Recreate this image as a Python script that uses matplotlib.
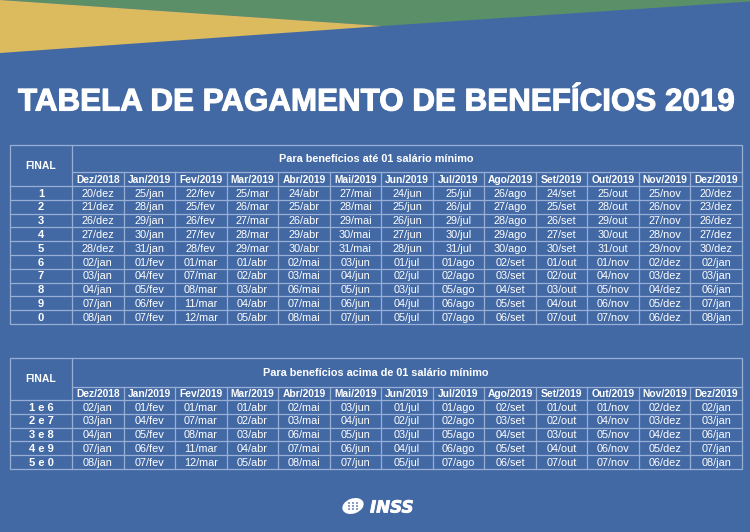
import matplotlib
matplotlib.use("Agg")
import matplotlib.pyplot as plt
import matplotlib.patheffects as pe
from matplotlib.patches import Polygon, Ellipse, Rectangle

# ---------------- data ----------------
title = "TABELA DE PAGAMENTO DE BENEFÍCIOS 2019"
months = ["Dez/2018", "Jan/2019", "Fev/2019", "Mar/2019", "Abr/2019", "Mai/2019",
          "Jun/2019", "Jul/2019", "Ago/2019", "Set/2019", "Out/2019", "Nov/2019", "Dez/2019"]

finals_1 = ["1", "2", "3", "4", "5", "6", "7", "8", "9", "0"]
header_1 = "Para benefícios até 01 salário mínimo"
dez2018 = ["20/dez", "21/dez", "26/dez", "27/dez", "28/dez", "02/jan", "03/jan", "04/jan", "07/jan", "08/jan"]
jan2019 = ["25/jan", "28/jan", "29/jan", "30/jan", "31/jan", "01/fev", "04/fev", "05/fev", "06/fev", "07/fev"]
fev2019 = ["22/fev", "25/fev", "26/fev", "27/fev", "28/fev", "01/mar", "07/mar", "08/mar", "11/mar", "12/mar"]
mar2019 = ["25/mar", "26/mar", "27/mar", "28/mar", "29/mar", "01/abr", "02/abr", "03/abr", "04/abr", "05/abr"]
abr2019 = ["24/abr", "25/abr", "26/abr", "29/abr", "30/abr", "02/mai", "03/mai", "06/mai", "07/mai", "08/mai"]
mai2019 = ["27/mai", "28/mai", "29/mai", "30/mai", "31/mai", "03/jun", "04/jun", "05/jun", "06/jun", "07/jun"]
jun2019 = ["24/jun", "25/jun", "26/jun", "27/jun", "28/jun", "01/jul", "02/jul", "03/jul", "04/jul", "05/jul"]
jul2019 = ["25/jul", "26/jul", "29/jul", "30/jul", "31/jul", "01/ago", "02/ago", "05/ago", "06/ago", "07/ago"]
ago2019 = ["26/ago", "27/ago", "28/ago", "29/ago", "30/ago", "02/set", "03/set", "04/set", "05/set", "06/set"]
set2019 = ["24/set", "25/set", "26/set", "27/set", "30/set", "01/out", "02/out", "03/out", "04/out", "07/out"]
out2019 = ["25/out", "28/out", "29/out", "30/out", "31/out", "01/nov", "04/nov", "05/nov", "06/nov", "07/nov"]
nov2019 = ["25/nov", "26/nov", "27/nov", "28/nov", "29/nov", "02/dez", "03/dez", "04/dez", "05/dez", "06/dez"]
dez2019 = ["20/dez", "23/dez", "26/dez", "27/dez", "30/dez", "02/jan", "03/jan", "06/jan", "07/jan", "08/jan"]
table_1 = [dez2018, jan2019, fev2019, mar2019, abr2019, mai2019, jun2019,
           jul2019, ago2019, set2019, out2019, nov2019, dez2019]

finals_2 = ["1 e 6", "2 e 7", "3 e 8", "4 e 9", "5 e 0"]
header_2 = "Para benefícios acima de 01 salário mínimo"
acima_dez2018 = ["02/jan", "03/jan", "04/jan", "07/jan", "08/jan"]
acima_jan2019 = ["01/fev", "04/fev", "05/fev", "06/fev", "07/fev"]
acima_fev2019 = ["01/mar", "07/mar", "08/mar", "11/mar", "12/mar"]
acima_mar2019 = ["01/abr", "02/abr", "03/abr", "04/abr", "05/abr"]
acima_abr2019 = ["02/mai", "03/mai", "06/mai", "07/mai", "08/mai"]
acima_mai2019 = ["03/jun", "04/jun", "05/jun", "06/jun", "07/jun"]
acima_jun2019 = ["01/jul", "02/jul", "03/jul", "04/jul", "05/jul"]
acima_jul2019 = ["01/ago", "02/ago", "05/ago", "06/ago", "07/ago"]
acima_ago2019 = ["02/set", "03/set", "04/set", "05/set", "06/set"]
acima_set2019 = ["01/out", "02/out", "03/out", "04/out", "07/out"]
acima_out2019 = ["01/nov", "04/nov", "05/nov", "06/nov", "07/nov"]
acima_nov2019 = ["02/dez", "03/dez", "04/dez", "05/dez", "06/dez"]
acima_dez2019 = ["02/jan", "03/jan", "06/jan", "07/jan", "08/jan"]
table_2 = [acima_dez2018, acima_jan2019, acima_fev2019, acima_mar2019, acima_abr2019,
           acima_mai2019, acima_jun2019, acima_jul2019, acima_ago2019, acima_set2019,
           acima_out2019, acima_nov2019, acima_dez2019]

# ---------------- style ----------------
BLUE = "#4369a5"
YELLOW = "#dbbb5e"
GREEN = "#5a8f67"
GRID = "#98aed5"
WHITE = "#ffffff"
W, H = 750, 532

fig = plt.figure(figsize=(W / 100, H / 100), dpi=100)
fig.patch.set_facecolor(BLUE)
ax = fig.add_axes([0, 0, 1, 1])
ax.set_xlim(0, W)
ax.set_ylim(H, 0)
ax.axis("off")
ax.set_facecolor(BLUE)

# top decoration
ax.add_patch(Polygon([(0, -2), (W + 2, -2), (W + 2, 1.4), (382, 26), (0, 0)],
                     closed=True, facecolor=GREEN, edgecolor="none"))
ax.add_patch(Polygon([(0, 0), (382, 26), (0, 53)], closed=True,
                     facecolor=YELLOW, edgecolor="none"))

# title scaled to span the width
t = ax.text(377, 110.5, title, ha="center", va="baseline", color=WHITE,
            fontsize=20, fontweight="bold", family="Liberation Sans",
            path_effects=[pe.withStroke(linewidth=0.8, foreground=WHITE)])
fig.canvas.draw()
bb = t.get_window_extent()
t.set_fontsize(20 * 716 / bb.width)

FAM = "Liberation Sans"
FS_HDR = 7.4
FS_DATA = 7.8


def draw_table(top, hdr_bottom, months_bottom, finals, header, cols, header_cx):
    left, right, split = 10, 742, 72
    nrows = len(finals)
    rh = 13.8
    bottom = months_bottom + rh * nrows
    ncol = len(months)
    cw = (right - split) / ncol
    lw = 0.9
    ax.add_patch(Rectangle((left, top), right - left, bottom - top, fill=False,
                           edgecolor=GRID, lw=lw))
    ax.plot([split, split], [top, bottom], color=GRID, lw=lw)
    ax.plot([split, right], [hdr_bottom, hdr_bottom], color=GRID, lw=lw)
    for i in range(nrows):
        y = months_bottom + rh * i
        ax.plot([left, right], [y, y], color=GRID, lw=lw)
    for j in range(1, ncol):
        x = split + cw * j
        ax.plot([x, x], [hdr_bottom, bottom], color=GRID, lw=lw)
    ax.text((left + split) / 2, (top + months_bottom) / 2 + 0.5, "FINAL", ha="center",
            va="center", color=WHITE, fontsize=7.5, fontweight="bold", family=FAM)
    ax.text(header_cx, (top + hdr_bottom) / 2 + 0.5, header, ha="center", va="center",
            color=WHITE, fontsize=7.8, fontweight="bold", family=FAM)
    for j, m in enumerate(months):
        ax.text(split + cw * (j + 0.5), (hdr_bottom + months_bottom) / 2 + 0.7, m,
                ha="center", va="center", color=WHITE, fontsize=FS_HDR,
                fontweight="bold", family=FAM)
    for i, f in enumerate(finals):
        yc = months_bottom + rh * (i + 0.5) + 0.7
        ax.text((left + split) / 2, yc, f, ha="center", va="center", color=WHITE,
                fontsize=8.0, fontweight="bold", family=FAM)
        for j, col in enumerate(cols):
            ax.text(split + cw * (j + 0.5), yc, col[i], ha="center", va="center",
                    color=WHITE, fontsize=FS_DATA, family=FAM)


draw_table(145, 172, 186, finals_1, header_1, table_1, 376)
draw_table(358, 387, 400, finals_2, header_2, table_2, 376)

# INSS logo
ax.add_patch(Ellipse((353, 506), 22, 15, angle=-20, facecolor=WHITE, edgecolor="none"))
for dx in (-4, 0, 4):
    for dy in (-3, 0, 3):
        ax.add_patch(Rectangle((353 + dx - 1, 506 + dy - 1), 2, 2,
                               facecolor="#8aa0c8", edgecolor="none"))
ax.text(370, 512.5, "INSS", ha="left", va="baseline", color=WHITE, fontsize=12,
        fontweight="bold", fontstyle="italic", family="DejaVu Sans",
        path_effects=[pe.withStroke(linewidth=0.6, foreground=WHITE)])

fig.savefig("out.png", dpi=100, facecolor=BLUE)
